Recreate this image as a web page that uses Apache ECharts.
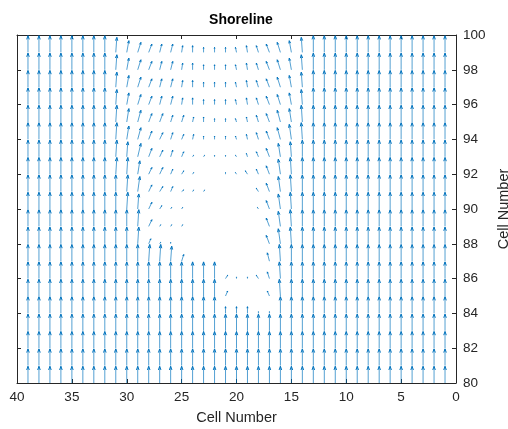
<!DOCTYPE html>
<html><head><meta charset="utf-8">
<script src="https://cdn.jsdelivr.net/npm/echarts@6/dist/echarts.min.js"></script>
<style>html,body{margin:0;padding:0;background:#fff}#c{width:508px;height:429px}</style>
</head><body><div id="c"></div>
<script>
// ---- data ----
const titleText = 'Shoreline';
const xAxisName = 'Cell Number';
const yAxisName = 'Cell Number';
const xTickValues = [40, 35, 30, 25, 20, 15, 10, 5, 0];
const yTickValues = [80, 82, 84, 86, 88, 90, 92, 94, 96, 98, 100];
// grid columns (left to right on screen) and rows (top to bottom)
const xCells = [39,38,37,36,35,34,33,32,31,30,29,28,27,26,25,24,23,22,21,20,19,18,17,16,15,14,13,12,11,10,9,8,7,6,5,4,3,2,1];
const yCells = [99,98,97,96,95,94,93,92,91,90,89,88,87,86,85,84,83,82,81,80];
// vertical component per cell, in tenths ('A' = 1.0, '0' = land / no arrow)
const vRows = [
  'AAAAAAAA' + '976555443333445679A' + 'AAAAAAAAAAAA',
  'AAAAAAAA' + '976555443333445679A' + 'AAAAAAAAAAAA',
  'AAAAAAAA' + '976555443333445679A' + 'AAAAAAAAAAAA',
  'AAAAAAAA' + '976555443333445679A' + 'AAAAAAAAAAAA',
  'AAAAAAAA' + 'A8755443322234578AA' + 'AAAAAAAAAAAA',
  'AAAAAAAA' + 'A8754433222234579AA' + 'AAAAAAAAAAAA',
  'AAAAAAAA' + 'A9854431111123589AA' + 'AAAAAAAAAAAA',
  'AAAAAAAA' + 'AA84432100112359AAA' + 'AAAAAAAAAAAA',
  'AAAAAAAA' + 'AA94331110000259AAA' + 'AAAAAAAAAAAA',
  'AAAAAAAA' + 'AA94211000000159AAA' + 'AAAAAAAAAAAA',
  'AAAAAAAA' + 'AAA4111000000059AAA' + 'AAAAAAAAAAAA',
  'AAAAAAAA' + 'AAA3110000000059AAA' + 'AAAAAAAAAAAA',
  'AAAAAAAA' + 'AAAAA9400000005AAAA' + 'AAAAAAAAAAAA',
  'AAAAAAAA' + 'AAAAAAAAAA21124AAAA' + 'AAAAAAAAAAAA',
  'AAAAAAAA' + 'AAAAAAAAAA30003AAAA' + 'AAAAAAAAAAAA',
  'AAAAAAAA' + 'AAAAAAAAAA44411AAAA' + 'AAAAAAAAAAAA',
  'AAAAAAAA' + 'AAAAAAAAAAAAAAAAAAA' + 'AAAAAAAAAAAA',
  'AAAAAAAA' + 'AAAAAAAAAAAAAAAAAAA' + 'AAAAAAAAAAAA',
  'AAAAAAAA' + 'AAAAAAAAAAAAAAAAAAA' + 'AAAAAAAAAAAA',
  'AAAAAAAA' + 'AAAAAAAAAAAAAAAAAAA' + 'AAAAAAAAAAAA'
];
// horizontal component per cell: '1'..'4' = -0.1..-0.4 (toward smaller x), 'a'..'d' = +0.1..+0.4
const uRows = [
  '00000000' + '12332210000aabccba0' + '000000000000',
  '00000000' + '12332210000aabccba0' + '000000000000',
  '00000000' + '12332210000aabccba0' + '000000000000',
  '00000000' + '12332210000aabccba0' + '000000000000',
  '00000000' + '12333221000aabccba0' + '000000000000',
  '00000000' + '12333221000aabccba0' + '000000000000',
  '00000000' + '11333221100aabcba00' + '000000000000',
  '00000000' + '11233221000abbcba00' + '000000000000',
  '00000000' + '0123322110000bcba00' + '000000000000',
  '00000000' + '0113211000000acba00' + '000000000000',
  '00000000' + '00131110000000cba00' + '000000000000',
  '00000000' + '00121000000000cba00' + '000000000000',
  '00000000' + '00011120000000ba000' + '000000000000',
  '00000000' + '0000000000200bba000' + '000000000000',
  '00000000' + '00000000002000ba000' + '000000000000',
  '00000000' + '0000000000000000000' + '000000000000',
  '00000000' + '0000000000000000000' + '000000000000',
  '00000000' + '0000000000000000000' + '000000000000',
  '00000000' + '0000000000000000000' + '000000000000',
  '00000000' + '0000000000000000000' + '000000000000'
];

// ---- build library data ----
function vCode(c) { return c === 'A' ? 1 : parseInt(c, 10) / 10; }
function uCode(c) {
  if (c >= '0' && c <= '9') return -parseInt(c, 10) / 10;
  return ('abcd'.indexOf(c) + 1) / 10;
}
const arrows = [];
yCells.forEach((y, r) => {
  xCells.forEach((x, k) => {
    const v = vCode(vRows[r][k]);
    const u = uCode(uRows[r][k]);
    if (v !== 0 || u !== 0) arrows.push([x, y, u, v]);
  });
});

const ARROW_SCALE = 0.96;
const BLUE = '#0072BD';
const AXIS = '#262626';
const FONT = 'Liberation Sans, Arial, Helvetica, sans-serif';

const chart = echarts.init(document.getElementById('c'), null, {renderer: 'canvas'});
const common = {
  type: 'value', splitLine: {show: false},
  axisLine: {show: true, onZero: false, lineStyle: {color: AXIS, width: 1}},
  axisTick: {show: true, inside: true, length: 4, lineStyle: {color: AXIS}}
};
chart.setOption({
  animation: false,
  backgroundColor: '#fff',
  title: {text: titleText, left: 236, textAlign: 'center', top: 8,
    textStyle: {fontFamily: FONT, fontSize: 14, fontWeight: 'bold', color: '#000'}},
  grid: {left: 17, right: 52, top: 35, bottom: 46, containLabel: false, outerBoundsMode: 'none'},
  xAxis: [
    Object.assign({}, common, {position: 'bottom', min: 0, max: 40, interval: 5, inverse: true,
      axisLabel: {color: AXIS, fontSize: 13.5, fontFamily: FONT, margin: 7},
      name: xAxisName, nameLocation: 'middle', nameGap: 27,
      nameTextStyle: {color: AXIS, fontSize: 14.5, fontFamily: FONT}}),
    Object.assign({}, common, {position: 'top', min: 0, max: 40, interval: 5, inverse: true,
      axisLabel: {show: false}})
  ],
  yAxis: [
    Object.assign({}, common, {position: 'right', min: 80, max: 100, interval: 2,
      axisLabel: {color: AXIS, fontSize: 13.5, fontFamily: FONT, margin: 7},
      name: yAxisName, nameLocation: 'middle', nameGap: 37, nameRotate: 90,
      nameTextStyle: {color: AXIS, fontSize: 14.5, fontFamily: FONT}}),
    Object.assign({}, common, {position: 'left', min: 80, max: 100, interval: 2,
      axisLabel: {show: false}})
  ],
  series: [{
    type: 'custom',
    xAxisIndex: 0, yAxisIndex: 0,
    clip: true,
    data: arrows,
    encode: {x: 0, y: 1},
    renderItem: function (params, api) {
      const x = api.value(0), y = api.value(1), u = api.value(2), v = api.value(3);
      const p0 = api.coord([x, y]);
      const p1 = api.coord([x + u * ARROW_SCALE, y + v * ARROW_SCALE]);
      const dx = p1[0] - p0[0], dy = p1[1] - p0[1];
      const a = 0.22, b = 0.35;
      const h1 = [p1[0] - a * (dx + b * dy), p1[1] - a * (dy - b * dx)];
      const h2 = [p1[0] - a * (dx - b * dy), p1[1] - a * (dy + b * dx)];
      return {
        type: 'group',
        children: [
          {type: 'line', shape: {x1: p0[0], y1: p0[1], x2: p1[0], y2: p1[1]},
            style: {stroke: BLUE, lineWidth: 0.8, opacity: 0.85}},
          {type: 'polyline', shape: {points: [h1, p1, h2]},
            style: {stroke: BLUE, lineWidth: 1, fill: null}}
        ]
      };
    }
  }]
});
</script></body></html>
